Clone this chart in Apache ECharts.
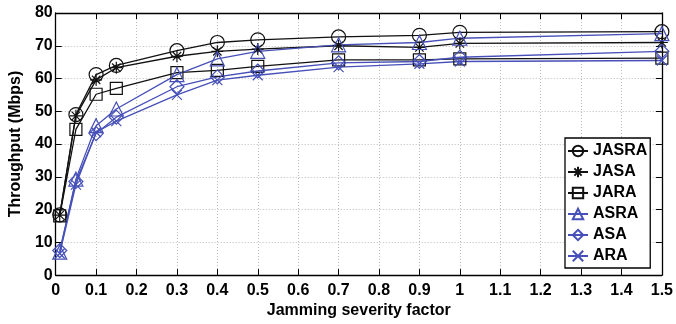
<!DOCTYPE html>
<html>
<head>
<meta charset="utf-8">
<script src="https://cdn.jsdelivr.net/npm/echarts@6/dist/echarts.min.js"></script>
<style>
  html, body { margin: 0; padding: 0; background: #fff; }
  #chart { width: 676px; height: 324px; }
</style>
</head>
<body>
<div id="chart"></div>
<script>
// Jamming severity factor (x) and throughput in Mbps for each scheme
const severity = [0.01, 0.05, 0.1, 0.15, 0.3, 0.4, 0.5, 0.7, 0.9, 1.0, 1.5];
const jasra = [18.4, 49.0, 61.2, 64.0, 68.5, 71.0, 71.8, 72.7, 73.2, 74.1, 74.3];
const jasa  = [18.3, 48.6, 59.6, 63.3, 66.8, 68.3, 69.0, 70.0, 69.5, 70.7, 71.0];
const jara  = [18.1, 44.5, 55.2, 57.0, 61.8, 62.5, 63.7, 65.7, 65.7, 66.0, 66.2];
const asra  = [7.0, 29.3, 45.6, 50.7, 61.2, 66.0, 68.3, 70.3, 71.0, 72.3, 73.7];
const asa   = [7.5, 28.6, 43.2, 48.2, 57.5, 60.5, 62.3, 64.8, 65.2, 66.5, 68.3];
const ara   = [6.6, 27.6, 43.6, 47.0, 55.0, 59.5, 61.0, 63.5, 64.5, 65.2, 65.5];
const seriesNames = ['JASRA', 'JASA', 'JARA', 'ASRA', 'ASA', 'ARA'];

const BLACK = '#111111';
const BLUE = '#4650b8';
const FONT = "'Liberation Sans', Arial, Helvetica, sans-serif";

const STAR = 'path://M5,0L5,10M0,5L10,5M1.5,1.5L8.5,8.5M8.5,1.5L1.5,8.5';
const CROSS = 'path://M0,0L10,10M10,0L0,10';

function pairs(ys) {
  return severity.map((x, i) => [x, ys[i]]);
}

function makeSeries(name, ys, color, symbol, size) {
  return {
    name: name,
    type: 'line',
    data: pairs(ys),
    symbol: symbol,
    symbolSize: size,
    showAllSymbol: true,
    lineStyle: { color: color, width: 1.3 },
    itemStyle: { color: 'rgba(0,0,0,0)', borderColor: color, borderWidth: 1.2 },
    emphasis: { disabled: true },
    animation: false,
    z: 3
  };
}

const chart = echarts.init(document.getElementById('chart'), null, { renderer: 'canvas' });

const tickLabelStyle = { fontFamily: FONT, fontWeight: 'bold', fontSize: 16, color: '#000' };

chart.setOption({
  backgroundColor: '#fff',
  animation: false,
  grid: { left: 55, right: 11, top: 13, bottom: 44, containLabel: false },
  legend: {
    data: seriesNames,
    orient: 'vertical',
    left: 565,
    top: 138,
    padding: [5, 3, 4, 2],
    itemWidth: 20,
    itemHeight: 13,
    itemGap: 5,
    backgroundColor: '#fff',
    borderColor: '#000',
    borderWidth: 1.3,
    textStyle: { fontFamily: FONT, fontWeight: 'bold', fontSize: 16, lineHeight: 16, color: '#000' }
  },
  xAxis: [{
    type: 'value',
    min: 0,
    max: 1.5,
    interval: 0.1,
    name: 'Jamming severity factor',
    nameLocation: 'middle',
    nameGap: 24,
    nameTextStyle: { fontFamily: FONT, fontWeight: 'bold', fontSize: 16, color: '#000' },
    axisLine: { show: true, onZero: false, lineStyle: { color: '#000', width: 1.3 } },
    axisTick: { show: true, inside: true, length: 6, lineStyle: { color: '#000' } },
    axisLabel: Object.assign({ margin: 7 }, tickLabelStyle),
    splitLine: { show: true, lineStyle: { color: '#bbb', type: [1, 2], width: 1 } }
  }, {
    type: 'value',
    position: 'top',
    min: 0,
    max: 1.5,
    interval: 0.1,
    axisLine: { show: true, onZero: false, lineStyle: { color: '#000', width: 1.3 } },
    axisTick: { show: true, inside: true, length: 6, lineStyle: { color: '#000' } },
    axisLabel: { show: false },
    splitLine: { show: false }
  }],
  yAxis: [{
    type: 'value',
    min: 0,
    max: 80,
    interval: 10,
    name: 'Throughput (Mbps)',
    nameLocation: 'middle',
    nameGap: 21,
    nameTextStyle: { fontFamily: FONT, fontWeight: 'bold', fontSize: 16, color: '#000' },
    axisLine: { show: true, onZero: false, lineStyle: { color: '#000', width: 1.3 } },
    axisTick: { show: true, inside: true, length: 6, lineStyle: { color: '#000' } },
    axisLabel: Object.assign({ margin: 3 }, tickLabelStyle),
    splitLine: { show: true, lineStyle: { color: '#bbb', type: [1, 2], width: 1 } }
  }, {
    type: 'value',
    position: 'right',
    min: 0,
    max: 80,
    interval: 10,
    axisLine: { show: true, onZero: false, lineStyle: { color: '#000', width: 1.3 } },
    axisTick: { show: true, inside: true, length: 6, lineStyle: { color: '#000' } },
    axisLabel: { show: false },
    splitLine: { show: false }
  }],
  series: [
    makeSeries('JASRA', jasra, BLACK, 'circle', 14),
    makeSeries('JASA', jasa, BLACK, STAR, 12),
    makeSeries('JARA', jara, BLACK, 'rect', 12),
    makeSeries('ASRA', asra, BLUE, 'triangle', 14),
    makeSeries('ASA', asa, BLUE, 'diamond', 14),
    makeSeries('ARA', ara, BLUE, CROSS, 10)
  ]
});
</script>
</body>
</html>
